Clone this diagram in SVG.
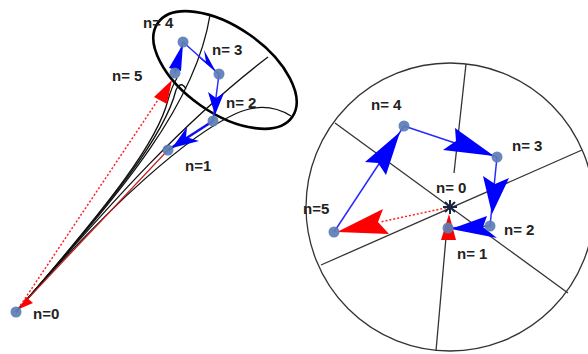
<svg xmlns="http://www.w3.org/2000/svg" width="588" height="354" viewBox="0 0 588 354">
<style>
.bg{fill:#ffffff}
.fun{fill:none;stroke:#111;stroke-width:1.3}
.wedge{fill:none;stroke:#333;stroke-width:1.3}
.bl{fill:none;stroke:#2a2aff;stroke-width:1.5}
.blt{fill:none;stroke:#1010ee;stroke-width:2.6}
.bh{fill:#0000ff}
.rh{fill:#ff0000}
.rd{fill:none;stroke:#ff2020;stroke-width:1.5;stroke-dasharray:2 2}
.rs{fill:none;stroke:#c02020;stroke-width:1.2}
.node{fill:#5b7db5;opacity:0.92}
.lbl{font-family:"Liberation Sans",Arial,sans-serif;font-weight:bold;font-size:15px;fill:#222}
</style>
<rect class="bg" x="0" y="0" width="588" height="354"/>

<!-- left funnel -->
<g id="funnel">
  <ellipse cx="225" cy="70" rx="82" ry="43" transform="rotate(35 225 70)" fill="none" stroke="#000" stroke-width="2.6"/>
  <path class="fun" d="M16,312 C115,198 165,135 176,90 Q181,80 186,89"/>
  <path class="fun" d="M16,312 C115,198 158,140 168,100 Q172,86 177,78"/>
  <path class="fun" d="M16,312 C115,198 195,110 210,15"/>
  <path class="fun" d="M16,312 C115,198 185,120 268,57"/>
  <path class="fun" d="M16,312 C115,198 190,135 235,114 Q265,100 291,116"/>
</g>

<!-- right circle -->
<g id="circle">
  <circle cx="450" cy="207" r="144" class="wedge"/>
  <line class="wedge" x1="466" y1="64" x2="454" y2="173"/>
  <line class="wedge" x1="335" y1="123" x2="568" y2="293"/>
  <line class="wedge" x1="582" y1="150" x2="321" y2="265"/>
  <line class="wedge" x1="447" y1="226" x2="436" y2="351"/>
</g>

<g id="connectors">
  <!-- left -->
  <line class="rs" x1="168" y1="150" x2="21" y2="306"/>
  <polygon class="rh" points="19,309 26,297 33,303"/>
  <line class="rd" x1="16" y1="312" x2="166" y2="88"/>
  <polygon class="rh" points="172,80 154,97 167,104"/>
  <line class="bl" x1="175" y1="73" x2="183" y2="42"/>
  <polygon class="bh" points="183,44 169,68 181,71"/>
  <line class="bl" x1="183" y1="42" x2="219" y2="74"/>
  <polygon class="bh" points="216,72 196,55 206,62 204,50"/>
  <line class="bl" x1="219" y1="74" x2="213" y2="121"/>
  <polygon class="bh" points="215,115 208,92 216,98 224,93"/>
  <line class="blt" x1="213" y1="121" x2="168" y2="150"/>
  <polygon class="bh" points="172,148 187,127 186,137 199,141"/>
  <!-- right -->
  <line class="bl" x1="334" y1="232" x2="404" y2="126"/>
  <polygon class="bh" points="400,132 365,162 378,163 386,175"/>
  <line class="bl" x1="404" y1="126" x2="497" y2="157"/>
  <polygon class="bh" points="494,156 455,128 456,141 443,150"/>
  <line class="bl" x1="497" y1="157" x2="490" y2="226"/>
  <polygon class="bh" points="492,214 483,176 495,184 509,178"/>
  <line class="bl" x1="490" y1="226" x2="448" y2="228"/>
  <polygon class="bh" points="451,229 487,216 483,227 497,238"/>
  <polygon class="rh" points="449,214 441,240 456,240"/>
  <line class="rd" x1="450" y1="207" x2="380" y2="222"/>
  <polygon class="rh" points="337,232 383,209 378,222 389,234"/>
</g>

<g id="L-n0"><circle class="node" cx="16" cy="312" r="5.5"/><text class="lbl" x="33" y="319">n=0</text></g>
<g id="L-n1"><circle class="node" cx="168" cy="150" r="5.5"/><text class="lbl" x="185" y="171">n=1</text></g>
<g id="L-n2"><circle class="node" cx="213" cy="121" r="5.5"/><text class="lbl" x="226" y="108">n= 2</text></g>
<g id="L-n3"><circle class="node" cx="219" cy="74" r="5.5"/><text class="lbl" x="212" y="55">n= 3</text></g>
<g id="L-n4"><circle class="node" cx="183" cy="42" r="5.5"/><text class="lbl" x="143" y="28">n= 4</text></g>
<g id="L-n5"><circle class="node" cx="175" cy="73" r="5.5"/><text class="lbl" x="112" y="81">n= 5</text></g>

<g id="R-n0">
  <path d="M445,202 L455,212 M455,202 L445,212 M450,200 L450,214 M443,207 L457,207" stroke="#1a2540" stroke-width="2"/>
  <text class="lbl" x="436" y="193">n= 0</text>
</g>
<g id="R-n1"><circle class="node" cx="448" cy="228" r="5.5"/><text class="lbl" x="457" y="259">n= 1</text></g>
<g id="R-n2"><circle class="node" cx="490" cy="226" r="5.5"/><text class="lbl" x="504" y="235">n= 2</text></g>
<g id="R-n3"><circle class="node" cx="497" cy="157" r="5.5"/><text class="lbl" x="512" y="151">n= 3</text></g>
<g id="R-n4"><circle class="node" cx="404" cy="126" r="5.5"/><text class="lbl" x="371" y="110">n= 4</text></g>
<g id="R-n5"><circle class="node" cx="334" cy="232" r="5.5"/><text class="lbl" x="303" y="214">n=5</text></g>
</svg>
